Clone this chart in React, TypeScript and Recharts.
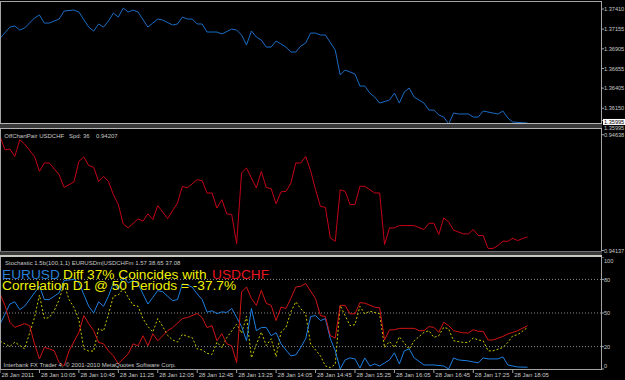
import { Line, LineChart, ReferenceLine, XAxis, YAxis } from "recharts"

const FONT = "'Liberation Sans', Arial, sans-serif"
const FRAME = "#a4a4a4"
const SCALE_TEXT = "#c8c8c8"
const X_MAX = 121.9

// time axis, one label every 8 five-minute bars
const timeTicks = [0, 8, 16, 24, 32, 40, 48, 56, 64, 72, 80, 88, 96, 104]
const timeLabels = [
  "28 Jan 2011", "28 Jan 10:05", "28 Jan 10:45", "28 Jan 11:25", "28 Jan 12:05",
  "28 Jan 12:45", "28 Jan 13:25", "28 Jan 14:05", "28 Jan 14:45", "28 Jan 15:25",
  "28 Jan 16:05", "28 Jan 16:45", "28 Jan 17:25", "28 Jan 18:05",
]

// EURUSD close (main window)
const eurBars = [0, 2, 3, 4, 5, 7, 8, 9, 10, 12, 13, 15, 16, 18, 19, 20, 21, 22, 23, 24, 25, 26, 27, 28, 30, 31, 32, 33, 35, 36, 37, 38, 39, 40, 41, 42, 44, 45, 47, 48, 49, 50, 51, 52, 53, 54, 55, 56, 57, 58, 59, 60, 61, 62, 63, 64, 65, 66, 68, 69, 70, 72, 73, 74, 75, 76, 77, 79, 80, 81, 82, 83, 84, 86, 87, 88, 89, 90, 91, 92, 93, 95, 96, 97, 98, 100, 101, 102, 103, 104, 107]
const eurClose = [1.37038, 1.37181, 1.37194, 1.37143, 1.37169, 1.37296, 1.37334, 1.37232, 1.37232, 1.37283, 1.37385, 1.37397, 1.37372, 1.37181, 1.37131, 1.3722, 1.37181, 1.37258, 1.37359, 1.37308, 1.37423, 1.37372, 1.37397, 1.37372, 1.37181, 1.37232, 1.37283, 1.3727, 1.37207, 1.3722, 1.37308, 1.37283, 1.37283, 1.3722, 1.3722, 1.37118, 1.37118, 1.37093, 1.37156, 1.37143, 1.3708, 1.36953, 1.37131, 1.37054, 1.37016, 1.36927, 1.36927, 1.37004, 1.36966, 1.36927, 1.36864, 1.36864, 1.3694, 1.36978, 1.37105, 1.37105, 1.3708, 1.3708, 1.36889, 1.36572, 1.36635, 1.36585, 1.36432, 1.36432, 1.36343, 1.36292, 1.36216, 1.36254, 1.36343, 1.36216, 1.36356, 1.36407, 1.36292, 1.36216, 1.36127, 1.36127, 1.36064, 1.36038, 1.3595, 1.36089, 1.36077, 1.36077, 1.36038, 1.36038, 1.36115, 1.36089, 1.36077, 1.36115, 1.36026, 1.35975, 1.35962]
const eurTicks = [1.3741, 1.37155, 1.36905, 1.36655, 1.36405, 1.3615, 1.35995]
const eurBid = 1.35995

// USDCHF close (OffChartPair window)
const chfBars = [0, 1, 2, 3, 4, 5, 7, 8, 9, 10, 12, 13, 15, 16, 17, 18, 19, 20, 21, 22, 23, 24, 25, 26, 28, 29, 30, 31, 32, 33, 34, 36, 37, 38, 40, 41, 42, 43, 44, 45, 46, 47, 48, 49, 50, 52, 53, 54, 55, 56, 57, 58, 59, 60, 61, 62, 63, 64, 65, 66, 67, 68, 69, 70, 71, 72, 73, 74, 76, 77, 78, 79, 80, 81, 84, 86, 87, 88, 89, 90, 91, 92, 94, 95, 96, 97, 98, 99, 100, 101, 102, 103, 104, 105, 106, 107]
const chfClose = [0.94631, 0.94573, 0.94576, 0.94544, 0.94616, 0.94598, 0.94544, 0.9448, 0.94516, 0.94516, 0.94465, 0.9441, 0.94434, 0.94523, 0.94542, 0.94505, 0.94497, 0.94436, 0.94458, 0.94436, 0.94379, 0.94336, 0.94252, 0.94235, 0.94274, 0.94264, 0.94296, 0.94271, 0.94331, 0.94304, 0.94275, 0.94343, 0.94415, 0.94408, 0.94444, 0.94439, 0.94386, 0.94386, 0.94321, 0.94357, 0.94296, 0.94293, 0.94166, 0.94473, 0.94494, 0.94408, 0.9448, 0.9441, 0.94405, 0.94339, 0.94391, 0.94393, 0.94429, 0.94516, 0.94516, 0.94544, 0.94483, 0.944, 0.94328, 0.94324, 0.94192, 0.94177, 0.944, 0.94393, 0.94336, 0.94336, 0.94415, 0.94415, 0.94386, 0.94386, 0.94163, 0.94235, 0.94235, 0.94245, 0.94245, 0.94228, 0.94255, 0.94255, 0.94206, 0.94278, 0.94261, 0.94225, 0.94209, 0.94209, 0.94228, 0.94202, 0.94202, 0.94146, 0.94146, 0.94159, 0.94177, 0.94177, 0.9419, 0.9418, 0.94189, 0.94196]
const chfTicks = [0.94638, 0.94137]

// Stochastic window: EURUSD %K, USDCHF %K and their difference
const stochTicks = [0, 20, 50, 80, 100]
const stochLevels = [20, 50, 80]
const eurStochBars = [0, 2, 3, 4, 5, 7, 8, 9, 10, 12, 13, 15, 16, 18, 19, 20, 21, 22, 23, 24, 25, 26, 27, 28, 30, 31, 32, 33, 35, 36, 37, 38, 39, 40, 41, 42, 43, 44, 45, 46, 47, 48, 49, 50, 51, 52, 53, 54, 55, 56, 57, 58, 59, 60, 61, 62, 63, 64, 65, 66, 67, 68, 69, 70, 71, 72, 73, 74, 75, 76, 77, 78, 79, 80, 81, 82, 83, 84, 86, 88, 90, 91, 92, 93, 95, 97, 98, 99, 101, 102, 103, 105, 107]
const eurStoch = [40, 58, 60, 53, 56, 68, 74, 62, 62, 68, 79, 80, 77, 56, 50, 60, 56, 65, 77, 71, 82, 77, 79, 76, 58, 64, 70, 69, 61, 62, 76, 75, 73, 67, 62, 50.7, 52, 49.5, 51, 50.5, 54.1, 45.9, 38, 25.2, 54.1, 34.2, 37, 37, 29.7, 32.4, 22.5, 17, 11.7, 12.6, 19.2, 27, 46.8, 47.7, 43.2, 45, 27, 16.2, 0, 8.1, 9.9, 9, 0.9, 9.9, 2.7, 4.5, 2.7, 5.4, 8.1, 14.4, 4.5, 16.2, 18, 9.9, 3.6, 3.6, 2.7, 0, 9.9, 8.1, 7.2, 5.4, 9.9, 9, 9, 10.8, 3.6, 1.8, 1.57]
const chfStochBars = [0, 1, 2, 3, 5, 6, 7, 8, 9, 10, 11, 12, 13, 14, 16, 17, 18, 19, 20, 21, 22, 23, 24, 26, 27, 28, 29, 30, 31, 32, 34, 35, 37, 38, 40, 41, 42, 43, 44, 45, 46, 47, 48, 49, 50, 51, 52, 53, 54, 55, 56, 57, 58, 59, 60, 61, 62, 64, 65, 66, 67, 68, 69, 70, 71, 72, 73, 74, 76, 77, 78, 79, 80, 81, 84, 85, 86, 87, 88, 89, 90, 91, 92, 94, 95, 96, 97, 98, 99, 100, 102, 103, 104, 105, 107]
const chfStoch = [67.3, 56.8, 41.7, 37.2, 40.5, 38.7, 22.5, 9, 19.2, 18, 16.2, 5.7, 2.7, 16.2, 32.7, 47.7, 40.5, 34.2, 23.7, 22.5, 16.2, 11.7, 4.5, 13.5, 22.5, 20.7, 29.7, 20.7, 31.5, 25.2, 34.2, 36.9, 45, 45.9, 49.5, 45.9, 36.9, 38.7, 25.2, 31.5, 22.5, 20.7, 5.7, 68.7, 73.2, 63, 56.8, 70.3, 58.6, 56.8, 43.2, 55.2, 54.1, 63.1, 73.2, 73.9, 76.3, 62.8, 47.7, 46.8, 29.7, 27.7, 56.8, 56.8, 49.3, 49.3, 59.2, 58.8, 55.2, 54.7, 25.9, 34.9, 35.1, 36.3, 36.3, 34.2, 34.2, 37.8, 37.2, 32.7, 41.7, 38.7, 34.2, 32.2, 32.2, 35.1, 33.6, 33.6, 25.9, 25.9, 29.1, 31.3, 32.7, 34.2, 38.65]
const diffBars = [0, 2, 3, 5, 7, 8, 9, 10, 11, 12, 13, 14, 15, 16, 17, 18, 19, 20, 21, 22, 23, 24, 25, 26, 27, 28, 29, 30, 31, 32, 33, 34, 35, 36, 37, 38, 39, 40, 41, 42, 43, 44, 45, 46, 47, 48, 49, 50, 51, 52, 53, 54, 55, 56, 57, 58, 59, 60, 61, 62, 63, 65, 66, 67, 68, 69, 70, 71, 72, 73, 74, 75, 77, 78, 79, 80, 81, 83, 84, 86, 87, 88, 89, 90, 91, 92, 94, 95, 96, 97, 98, 99, 100, 102, 103, 104, 105, 107]
const diffVals = [25, 20, 24, 18, 46, 66, 45, 46, 52, 62, 76, 62, 55, 44, 18, 16, 16, 36, 34, 49, 65, 66, 72, 64, 57, 56, 45, 38, 33, 45, 38, 30, 26, 24, 31, 29, 28, 18, 17, 14, 13, 24, 19, 28, 34, 40, 32, 47, 10, 22, 33, 21, 27, 11, 33, 37, 51, 60, 53.8, 49.3, 22.3, 11.7, 2.7, 1.2, 4.2, 56.8, 47.7, 38.7, 39.6, 55.9, 49.3, 51.6, 49.3, 19.2, 24.6, 19.2, 28.8, 17.7, 25.2, 32.7, 34.2, 28.2, 29.7, 37.2, 35.8, 25.2, 23.7, 23.7, 27.7, 25.9, 25.2, 16.2, 16.2, 19.2, 23.7, 29.7, 30.6, 37.08]

const pts = (bars: number[], vals: number[]) => bars.map((bar, i) => ({ bar, v: vals[i] }))

function scaleTick(digits: number, minY: number, maxY: number, boxed?: number) {
  return (props: any) => {
    const { x, y, payload } = props
    const v = payload.value as number
    const cy = Math.min(Math.max(y, minY), maxY)
    const label = v.toFixed(digits)
    if (v === boxed) {
      return (
        <g>
          <rect x={x - 1} y={cy - 1.5} width={22} height={6} fill="#ffffff" />
          <text x={x} y={cy + 3.6} fill="#000" fontSize={5.6} fontFamily={FONT}>{label}</text>
        </g>
      )
    }
    return (
      <text x={x} y={cy + 2.1} fill={SCALE_TEXT} fontSize={5.6} fontFamily={FONT}>{label}</text>
    )
  }
}

function TimeTick(props: any) {
  const { x, y, payload } = props
  return (
    <text x={x + 1.5} y={y + 4} fill={SCALE_TEXT} fontSize={6} fontFamily={FONT}>
      {timeLabels[timeTicks.indexOf(payload.value)]}
    </text>
  )
}

function Pane({ top, height, bottomPad, domain, ticks, tick, children, timeAxis = false }: {
  top: number
  height: number
  bottomPad: number
  domain: [number, number]
  ticks: number[]
  tick: any
  children: React.ReactNode
  timeAxis?: boolean
}) {
  return (
    <div style={{ position: "absolute", left: 0, top }}>
      <LineChart width={625} height={height} margin={{ top: 0, right: 0, bottom: bottomPad, left: 0 }}>
        <XAxis
          type="number"
          dataKey="bar"
          domain={[0, X_MAX]}
          allowDataOverflow
          hide={!timeAxis}
          ticks={timeTicks}
          interval={0}
          height={11}
          tickSize={4}
          tickMargin={0}
          axisLine={false}
          tickLine={{ stroke: FRAME }}
          tick={TimeTick}
        />
        <YAxis
          orientation="right"
          width={24}
          domain={domain}
          allowDataOverflow
          ticks={ticks}
          interval={0}
          tickSize={3}
          tickMargin={0}
          axisLine={false}
          tickLine={{ stroke: FRAME }}
          tick={tick}
        />
        {children}
      </LineChart>
    </div>
  )
}

export default function App() {
  return (
    <div style={{ position: "fixed", left: 0, top: 0, width: 625, height: 380, background: "#000", overflow: "hidden" }}>
      <Pane top={1} height={130} bottomPad={7} domain={[1.3595, 1.37512]} ticks={eurTicks} tick={scaleTick(5, 4, 125, eurBid)}>
        <Line data={pts(eurBars, eurClose)} dataKey="v" type="linear" stroke="#1a6cc4" strokeWidth={1} dot={false} isAnimationActive={false} />
      </Pane>
      <Pane top={129} height={127} bottomPad={5} domain={[0.94135, 0.94663]} ticks={chfTicks} tick={scaleTick(5, 4, 124)}>
        <Line data={pts(chfBars, chfClose)} dataKey="v" type="linear" stroke="#c40018" strokeWidth={1} dot={false} isAnimationActive={false} />
      </Pane>
      <Pane top={257} height={123} bottomPad={0} domain={[0, 100]} ticks={stochTicks} tick={scaleTick(0, 4, 109)} timeAxis>
        {stochLevels.map((lv) => (
          <ReferenceLine key={lv} y={lv} stroke="#8c8c8c" strokeDasharray="1 2" />
        ))}
        <Line data={pts(diffBars, diffVals)} dataKey="v" type="linear" stroke="#c8c800" strokeDasharray="2 2" strokeWidth={1} dot={false} isAnimationActive={false} />
        <Line data={pts(eurStochBars, eurStoch)} dataKey="v" type="linear" stroke="#1e7fe0" strokeWidth={1} dot={false} isAnimationActive={false} />
        <Line data={pts(chfStochBars, chfStoch)} dataKey="v" type="linear" stroke="#d01414" strokeWidth={1} dot={false} isAnimationActive={false} />
      </Pane>

      <svg width={625} height={380} style={{ position: "absolute", left: 0, top: 0 }}>
        {/* window frame and separators */}
        <line x1={0} x2={602} y1={1.5} y2={1.5} stroke={FRAME} />
        <line x1={0.5} x2={0.5} y1={1} y2={370} stroke={FRAME} />
        <line x1={601.5} x2={601.5} y1={1} y2={370} stroke={FRAME} />
        <line x1={0} x2={602} y1={369.5} y2={369.5} stroke={FRAME} />
        <rect x={0} y={123} width={602} height={6} fill="#3a3a3a" />
        <line x1={0} x2={602} y1={123.5} y2={123.5} stroke="#b4b4b4" />
        <line x1={0} x2={602} y1={128.5} y2={128.5} stroke="#b4b4b4" />
        <rect x={0} y={251} width={602} height={6} fill="#3a3a3a" />
        <line x1={0} x2={602} y1={251.5} y2={251.5} stroke="#707070" />
        <line x1={0} x2={602} y1={255.5} y2={255.5} stroke="#c8c8c0" />
        <line x1={0} x2={602} y1={256.5} y2={256.5} stroke="#c8c8c0" />

        <text x={604} y={129.5} fill={SCALE_TEXT} fontSize={5.6} fontFamily={FONT}>1.35995</text>

        <g fontFamily={FONT} fontSize={6} fill={SCALE_TEXT}>
          <text x={4.3} y={138.3}>OffChartPair USDCHF</text>
          <text x={69} y={138.3}>Spd: 36</text>
          <text x={96} y={138.3}>0.94207</text>
          <text x={5} y={264.6}>Stochastic 1.5b(100,1,1) EURUSDm|USDCHFm 1.57 38.65 37.08</text>
          <text x={3.5} y={366.6}>Interbank FX Trader 4, © 2001-2010 MetaQuotes Software Corp.</text>
        </g>
        <g fontFamily={FONT} fontSize={13.7}>
          <text x={2} y={279} fill="#2a80d8">EURUSD</text>
          <text x={63} y={279} fill="#f0f000">Diff 37% Coincides with</text>
          <text x={212} y={279} fill="#e8141e">USDCHF</text>
          <text x={2} y={289.5} fill="#f0f000">Correlation D1 @ 50 Periods = -37.7%</text>
        </g>
      </svg>
    </div>
  )
}
